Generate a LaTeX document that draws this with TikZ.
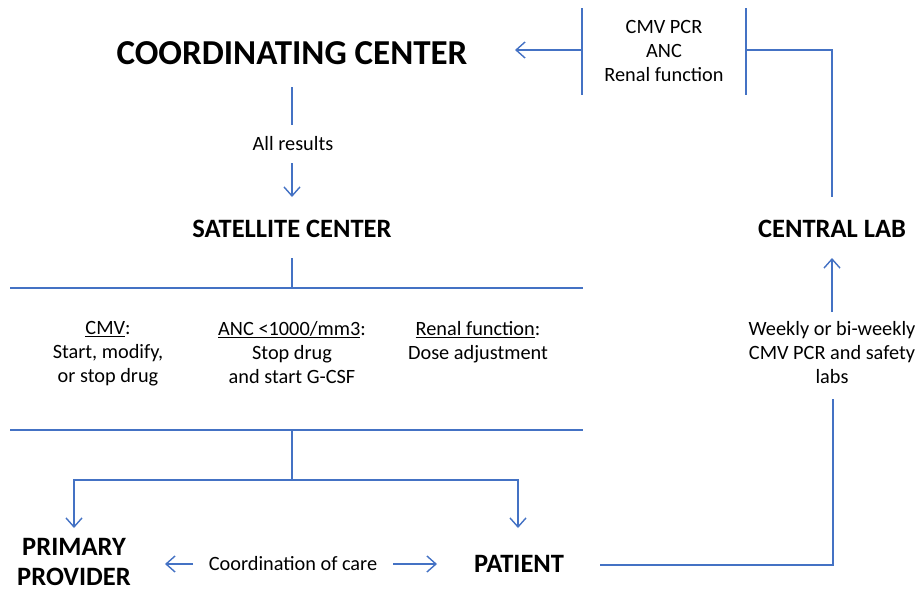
\documentclass[tikz,border=0pt]{standalone}
\usepackage{fontspec}
\setmainfont{Carlito}
\usetikzlibrary{arrows.meta}
\definecolor{lineblue}{RGB}{68,114,196}
\tikzset{
  conn/.style={draw=lineblue, line width=1.4pt},
  arr/.style={conn, -{Straight Barb[length=9pt,width=16pt,line width=1.4pt]}},
  big/.style={font=\bfseries\fontsize{35}{40}\selectfont, inner sep=0pt},
  head/.style={font=\bfseries\fontsize{26.5}{30}\selectfont, inner sep=0pt, align=center},
  txt/.style={font=\fontsize{20.3}{24}\selectfont, inner sep=0pt, align=center},
}
\begin{document}
\begin{tikzpicture}[x=1pt,y=-1pt]
\useasboundingbox (0,0) rectangle (919,592);
% nodes
\node[big] (cc) at (292,53) {COORDINATING CENTER};
\node[txt] (labs) at (664,51) {CMV PCR\\ANC\\Renal function};
\node[txt] (allres) at (293,144) {All results};
\node[head] (sat) at (292,229) {SATELLITE CENTER};
\node[head] (cl) at (832,229) {CENTRAL LAB};
\node[txt, anchor=north] (cmv) at (108,321) {\underline{CMV}:\\Start, modify,\\or stop drug};
\node[txt, anchor=north] (anc) at (292,321) {\underline{ANC <1000/mm3}:\\Stop drug\\and start G-CSF};
\node[txt, anchor=north] (ren) at (478,321) {\underline{Renal function}:\\Dose adjustment};
\node[txt, anchor=north] (weekly) at (832,321) {Weekly or bi-weekly\\CMV PCR and safety\\labs};
\node[head] (pp) at (74,562) {PRIMARY\\PROVIDER};
\node[txt] (coord) at (293,564) {Coordination of care};
\node[head] (pat) at (519,564) {PATIENT};
% coordinates
\coordinate (lbT) at (582,8);
\coordinate (lbB) at (582,95);
\coordinate (lbM) at (582,50);
\coordinate (ccE) at (515,50);
\coordinate (rbT) at (746,8);
\coordinate (rbB) at (746,95);
\coordinate (rbM) at (746,50);
\coordinate (rC) at (832,50);
\coordinate (clTop) at (832,197);
\coordinate (a1) at (292,87);
\coordinate (a2) at (292,125);
\coordinate (a3) at (292,163);
\coordinate (a4) at (292,197);
\coordinate (s1) at (292,258);
\coordinate (h1) at (292,288);
\coordinate (h1L) at (10,288);
\coordinate (h1R) at (583,288);
\coordinate (h2L) at (10,430);
\coordinate (h2R) at (583,430);
\coordinate (h2) at (292,430);
\coordinate (b1) at (292,480);
\coordinate (bL) at (74,480);
\coordinate (bR) at (518,480);
\coordinate (ppT) at (74,528);
\coordinate (patT) at (518,528);
\coordinate (cL1) at (193,564);
\coordinate (cL2) at (165,564);
\coordinate (cR1) at (393,564);
\coordinate (cR2) at (437,564);
\coordinate (p1) at (600,565);
\coordinate (p2) at (833,565);
\coordinate (p3) at (833,399);
\coordinate (w1) at (832,312);
\coordinate (w2) at (832,258);
% connectors
\draw[conn] (lbT) -- (lbB);
\draw[arr] (lbM) -- (ccE);
\draw[conn] (rbT) -- (rbB);
\draw[conn] (rbM) -- (rC) -- (clTop);
\draw[conn] (a1) -- (a2);
\draw[arr] (a3) -- (a4);
\draw[conn] (s1) -- (h1);
\draw[conn] (h1L) -- (h1R);
\draw[conn] (h2L) -- (h2R);
\draw[conn] (h2) -- (b1);
\draw[arr] (b1) -- (bL) -- (ppT);
\draw[arr] (b1) -- (bR) -- (patT);
\draw[arr] (cL1) -- (cL2);
\draw[arr] (cR1) -- (cR2);
\draw[conn] (p1) -- (p2) -- (p3);
\draw[arr] (w1) -- (w2);
\end{tikzpicture}
\end{document}
